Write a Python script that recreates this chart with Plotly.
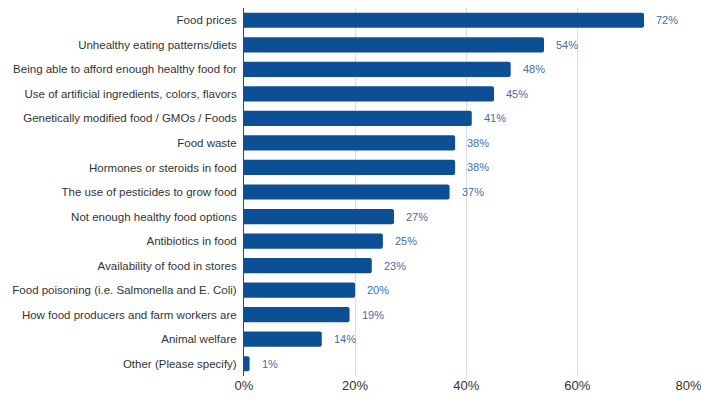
import plotly.graph_objects as go

categories = [
    "Food prices",
    "Unhealthy eating patterns/diets",
    "Being able to afford enough healthy food for",
    "Use of artificial ingredients, colors, flavors",
    "Genetically modified food / GMOs / Foods",
    "Food waste",
    "Hormones or steroids in food",
    "The use of pesticides to grow food",
    "Not enough healthy food options",
    "Antibiotics in food",
    "Availability of food in stores",
    "Food poisoning (i.e. Salmonella and E. Coli)",
    "How food producers and farm workers are",
    "Animal welfare",
    "Other (Please specify)",
]
values = [72, 54, 48, 45, 41, 38, 38, 37, 27, 25, 23, 20, 19, 14, 1]
tick_vals = [0, 20, 40, 60, 80]
tick_text = ["0%", "20%", "40%", "60%", "80%"]

bar_color = "#0d4f94"
label_color = "#3f6ea6"
font_family = "Liberation Sans, Arial, sans-serif"

fig = go.Figure(
    go.Bar(
        y=categories,
        x=values,
        orientation="h",
        marker=dict(color=bar_color, cornerradius=2, line=dict(width=0)),
        hoverinfo="skip",
    )
)

for cat, v in zip(categories, values):
    fig.add_annotation(
        x=v, y=cat, text=f"{v}%", showarrow=False,
        xanchor="left", xshift=10,
        font=dict(family=font_family, size=11, color=label_color),
    )

fig.update_layout(
    width=701, height=404,
    margin=dict(l=244, r=12, t=8, b=28),
    paper_bgcolor="white", plot_bgcolor="white",
    bargap=0.38,
    showlegend=False,
    font=dict(family=font_family),
)
fig.update_xaxes(
    range=[0, 80.1], tickvals=tick_vals, ticktext=tick_text,
    showgrid=True, gridcolor="#dcdcdc", gridwidth=1,
    zeroline=False, showline=False, ticks="",
    tickfont=dict(size=13, color="#333333"),
    ticklabeloverflow="allow",
    automargin=False,
)
fig.update_yaxes(
    autorange="reversed", categoryorder="array", categoryarray=categories,
    showline=True, linecolor="#444444", linewidth=1, ticks="",
    ticklabelstandoff=4,
    tickfont=dict(size=11.5, color="#333333"),
    automargin=False,
)

fig.write_html("out.html")
